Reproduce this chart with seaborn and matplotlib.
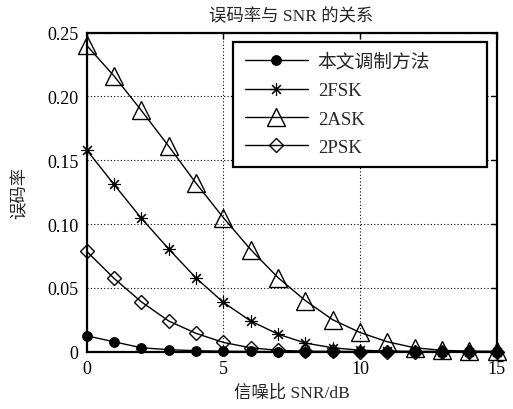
import numpy as np
import pandas as pd
import matplotlib
matplotlib.use("Agg")
import matplotlib.pyplot as plt
import seaborn as sns

snr = list(range(16))
ours = [0.0124, 0.0077, 0.0030, 0.0015, 0.0007, 0.0003, 0.0001, 0, 0, 0, 0, 0, 0, 0, 0, 0]
fsk2 = [0.158, 0.131, 0.1045, 0.0805, 0.0577, 0.0386, 0.024, 0.0137, 0.0067, 0.0030, 0.0011, 0.0004, 0.0001, 0, 0, 0]
ask2 = [0.240, 0.216, 0.189, 0.161, 0.132, 0.105, 0.080, 0.058, 0.040, 0.025, 0.015, 0.0077, 0.0030, 0.0010, 0.0003, 0.0001]
psk2 = [0.0786, 0.0574, 0.039, 0.024, 0.0143, 0.0072, 0.0030, 0.0010, 0.0003, 0.0001, 0, 0, 0, 0, 0, 0]
labels = ["本文调制方法", "2FSK", "2ASK", "2PSK"]
xticks = [0, 5, 10, 15]
yticks = [0, 0.05, 0.10, 0.15, 0.20, 0.25]
yticklabels = ["0", "0.05", "0.10", "0.15", "0.20", "0.25"]
title = "误码率与 SNR 的关系"
xlabel = "信噪比 SNR/dB"
ylabel = "误码率"

sns.set_style("white")
plt.rcParams['font.family'] = ['Liberation Serif', 'Noto Sans CJK SC']
plt.rcParams['mathtext.fontset'] = 'stix'

fig = plt.figure(figsize=(5.13, 4.10), dpi=100)
ax = fig.add_axes([0.169, 0.140, 0.799, 0.778])

styles = [
    dict(marker='o', markersize=7, markerfacecolor='black', markeredgecolor='black'),
    dict(marker=(8, 2, 0), markersize=9, markeredgecolor='black', markeredgewidth=0.8),
    dict(marker='^', markersize=13, markerfacecolor='none', markeredgecolor='black', markeredgewidth=1.0),
    dict(marker='D', markersize=7.5, markerfacecolor='none', markeredgecolor='black', markeredgewidth=1.0),
]
for data, lab, st in zip([ours, fsk2, ask2, psk2], labels, styles):
    df = pd.DataFrame({"snr": snr, "ber": data})
    sns.lineplot(data=df, x="snr", y="ber", ax=ax, color='black', linewidth=1.0,
                 label=lab, clip_on=False, **st)

ax.set_xlim(0, 15)
ax.set_ylim(0, 0.25)
ax.set_xticks(xticks)
ax.set_xticklabels([str(t) for t in xticks])
ax.set_yticks(yticks)
ax.set_yticklabels(yticklabels)
ax.grid(True, linestyle=(0, (1, 2)), color='black', linewidth=0.8)
ax.tick_params(direction='in', length=4, width=1, top=True, right=True,
               labelsize=13, pad=6, colors='black')
for s in ax.spines.values():
    s.set_visible(True)
    s.set_color('black')
    s.set_linewidth(1.6)

ax.set_title(title, fontsize=12.5, pad=9)
ax.set_xlabel(xlabel, fontsize=12.5, labelpad=5)
ax.set_ylabel(ylabel, fontsize=12.5, labelpad=13)

leg = ax.legend(loc='upper left', bbox_to_anchor=(0.3576, 0.575, 0.62, 0.396),
                mode='expand', fontsize=13.5, handlelength=3.4, labelspacing=0.6,
                handletextpad=0.5, borderpad=0.6, frameon=True, fancybox=False,
                borderaxespad=0)
fr = leg.get_frame()
fr.set_edgecolor('black')
fr.set_linewidth(1.6)
fr.set_facecolor('white')
fr.set_alpha(1)

fig.savefig("out.png", dpi=100)
